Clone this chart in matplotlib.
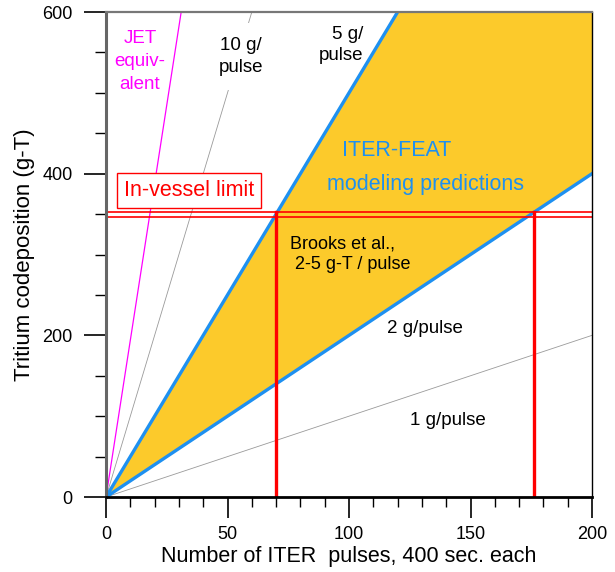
import numpy as np
import matplotlib
matplotlib.use("Agg")
import matplotlib.pyplot as plt
from matplotlib.ticker import MultipleLocator

plt.rcParams['font.family'] = ['Liberation Sans', 'DejaVu Sans']

# deposition rates, g-T per pulse
thin_rates = [1, 10]
model_rates = [2, 5]
jet_rate = 19.4
pulses = [0, 200]

# in-vessel limit (double line) and where the model lines hit it
limit_lo = 347
limit_hi = 353
pulses_at_limit = [70, 176]

blue = '#1E90F0'
yellow = '#FCCA2B'

fig = plt.figure(figsize=(6.15, 5.72), dpi=100)
ax = fig.add_axes([0.1724, 0.1311, 0.7902, 0.8479])

x = np.array(pulses, dtype=float)
ax.fill_between(x, model_rates[0] * x, model_rates[1] * x, color=yellow, lw=0, zorder=1)
for r in thin_rates:
    ax.plot(x, r * x, color='#9a9a9a', lw=0.6, zorder=2)
ax.plot(x, jet_rate * x, color='#ff00ff', lw=0.9, zorder=2)
for r in model_rates:
    ax.plot(x, r * x, color=blue, lw=2.4, zorder=3)

for yl in (limit_lo, limit_hi):
    ax.axhline(yl, color='red', lw=1.2, zorder=4)
for xv in pulses_at_limit:
    ax.plot([xv, xv], [0, limit_hi], color='red', lw=2.4, zorder=4)

ax.set_xlim(0, 200)
ax.set_ylim(0, 600)
ax.xaxis.set_major_locator(MultipleLocator(50))
ax.xaxis.set_minor_locator(MultipleLocator(10))
ax.yaxis.set_major_locator(MultipleLocator(200))
ax.yaxis.set_minor_locator(MultipleLocator(50))
ax.tick_params(axis='x', which='major', length=15, width=1.2, pad=6, labelsize=13)
ax.tick_params(axis='x', which='minor', length=7, width=1)
ax.tick_params(axis='y', which='major', length=16, width=1.2, pad=8, labelsize=13)
ax.tick_params(axis='y', which='minor', length=8, width=1)

ax.spines['left'].set_color('#666666')
ax.spines['left'].set_linewidth(2.2)
ax.spines['top'].set_color('#777777')
ax.spines['top'].set_linewidth(1.6)
ax.spines['bottom'].set_color('black')
ax.spines['bottom'].set_linewidth(2)
ax.spines['right'].set_color('black')
ax.spines['right'].set_linewidth(1)
for s in ax.spines.values():
    s.set_zorder(6)

ax.set_xlabel('Number of ITER  pulses, 400 sec. each', fontsize=15.5, labelpad=2)
ax.set_ylabel('Tritium codeposition (g-T)', fontsize=16, labelpad=5)

ax.text(14, 539, 'JET\nequiv-\nalent', color='#ff00ff', fontsize=13.5,
        ha='center', va='center', linespacing=1.45, zorder=5)
ax.text(55.6, 545, '10 g/\npulse', color='black', fontsize=13.5,
        ha='center', va='center', linespacing=1.45, zorder=5,
        bbox=dict(facecolor='white', edgecolor='none', pad=10))
ax.text(105.8, 559, '5 g/\npulse', color='black', fontsize=13.5,
        ha='right', va='center', multialignment='right', linespacing=1.35, zorder=5)
ax.text(119.8, 429, 'ITER-FEAT', color=blue, fontsize=15.5, ha='center', va='center', zorder=5)
ax.text(131.3, 387, 'modeling predictions', color=blue, fontsize=15.5,
        ha='center', va='center', zorder=5)
ax.text(34.2, 379, 'In-vessel limit', color='red', fontsize=15.5, ha='center', va='center',
        zorder=5, bbox=dict(facecolor='white', edgecolor='red', lw=1, pad=5))
ax.text(75.7, 300, 'Brooks et al.,\n 2-5 g-T / pulse', color='black', fontsize=13,
        ha='left', va='center', linespacing=1.3, zorder=5)
ax.text(131.3, 209, '2 g/pulse', color='black', fontsize=13.5, ha='center', va='center', zorder=5)
ax.text(140.5, 95, '1 g/pulse', color='black', fontsize=13.5, ha='center', va='center', zorder=5)

fig.savefig('out.png', dpi=100)
